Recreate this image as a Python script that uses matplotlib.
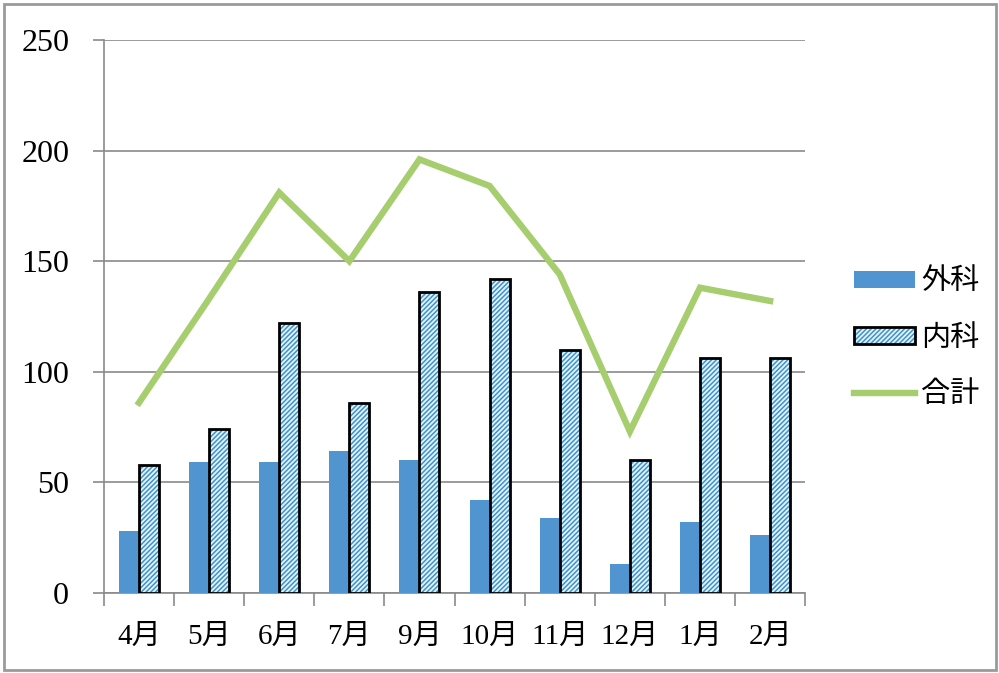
import matplotlib
matplotlib.use("Agg")
import matplotlib.pyplot as plt
import numpy as np
from matplotlib.patches import Patch, Rectangle
from matplotlib.lines import Line2D
from matplotlib.legend_handler import HandlerTuple

months = ["4月", "5月", "6月", "7月", "9月", "10月", "11月", "12月", "1月", "2月"]
geka = [28, 59, 59, 64, 60, 42, 34, 13, 32, 26]
naika = [58, 74, 122, 86, 136, 142, 110, 60, 106, 106]
total = [86, 133, 181, 150, 196, 184, 144, 73, 138, 132]
yticks = [0, 50, 100, 150, 200, 250]

plt.rcParams['font.family'] = ['Liberation Serif', 'Noto Sans CJK JP']
plt.rcParams['hatch.linewidth'] = 1.1

BLUE = '#5095cf'
HATCH_FILL = '#e3f3fb'
HATCH_COL = '#3f92cc'
GREEN = '#a6cd6e'
GRID = '#8a8a8a'

fig = plt.figure(figsize=(9.99, 6.73), dpi=100)
ax = fig.add_axes([0.104, 0.119, 0.702, 0.8216])

x = np.arange(len(months))
w = 0.285
ax.bar(x - w / 2, geka, w, color=BLUE, linewidth=0, zorder=3)
ax.bar(x + w / 2, naika, w, facecolor=HATCH_FILL, edgecolor=HATCH_COL,
       hatch='///////', linewidth=0, zorder=3)
ax.bar(x + w / 2, naika, w, facecolor='none', edgecolor='black',
       linewidth=2.0, zorder=4)
ax.plot(x, total, color=GREEN, linewidth=4.6, solid_joinstyle='miter', zorder=5)

ax.set_xlim(-0.5, len(months) - 0.5)
ax.set_ylim(0, 250)
ax.set_yticks(yticks)
ax.set_yticklabels([str(v) for v in yticks], fontsize=23)
ax.set_xticks(x)
ax.set_xticklabels(months, fontsize=21)
ax.set_xticks(np.arange(-0.5, len(months)), minor=True)
ax.tick_params(axis='x', which='major', length=0, pad=22)
ax.tick_params(axis='x', which='minor', length=9, width=1.2, color=GRID, direction='out')
ax.tick_params(axis='y', length=8, width=1.2, color=GRID, direction='out', pad=17)

ax.grid(axis='y', color=GRID, linewidth=1.2, zorder=0)
ax.set_axisbelow(True)
for s in ['top', 'right']:
    ax.spines[s].set_visible(False)
for s in ['left', 'bottom']:
    ax.spines[s].set_color(GRID)
    ax.spines[s].set_linewidth(1.2)

h1 = Patch(facecolor=BLUE, linewidth=0)
h2a = Patch(facecolor=HATCH_FILL, edgecolor=HATCH_COL, hatch='///////', linewidth=0)
h2b = Patch(facecolor='none', edgecolor='black', linewidth=2.0)
h3 = Line2D([0], [0], color=GREEN, linewidth=4.6)
fig.legend([h1, (h2a, h2b), h3], ["外科", "内科", "合計"],
           handler_map={tuple: HandlerTuple(ndivide=1, pad=0)},
           loc='center left', bbox_to_anchor=(0.843, 0.497),
           frameon=False, fontsize=21, handlelength=2.1, handleheight=0.52,
           handletextpad=0.2, labelspacing=1.02, borderaxespad=0)

fig.patches.append(Rectangle((0.004, 0.004), 0.993, 0.99, transform=fig.transFigure,
                             fill=False, edgecolor='#9a9a9a', linewidth=2))

fig.savefig("out.png", dpi=100, facecolor='white')
